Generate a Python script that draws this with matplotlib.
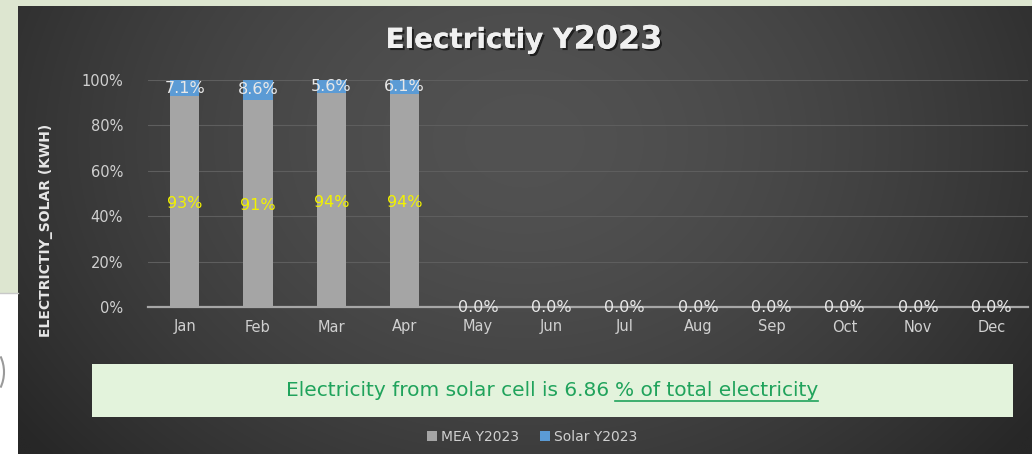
import numpy as np
import matplotlib
matplotlib.use("Agg")
import matplotlib.pyplot as plt
from matplotlib.patches import Rectangle, Arc
from matplotlib.lines import Line2D
import matplotlib.patheffects as pe

# ---- data ----
months = ["Jan", "Feb", "Mar", "Apr", "May", "Jun", "Jul", "Aug", "Sep", "Oct", "Nov", "Dec"]
mea_pct = [92.9, 91.4, 94.4, 93.9, 0, 0, 0, 0, 0, 0, 0, 0]
solar_pct = [7.1, 8.6, 5.6, 6.1, 0, 0, 0, 0, 0, 0, 0, 0]
mea_labels = ["93%", "91%", "94%", "94%"]
solar_share_total = 6.86
yticks = [0, 20, 40, 60, 80, 100]

W, H = 1032, 454
fig = plt.figure(figsize=(W / 100, H / 100), dpi=100)
fig.patch.set_facecolor("#dde6d0")

def fx(px):
    return px / W

def fy(py):
    return 1 - py / H

# white patch bottom-left
fig.add_artist(Rectangle((0, 0), fx(18), fy(293), transform=fig.transFigure,
                         facecolor="white", edgecolor="none", zorder=0))
fig.add_artist(Line2D([0, fx(18)], [fy(293), fy(293)], transform=fig.transFigure,
                      color="#c8c8c8", lw=1, zorder=1))
fig.add_artist(Arc((fx(-20), fy(372)), fx(48), 60 / H, transform=fig.transFigure,
                   theta1=-60, theta2=60, color="#9a9a9a", lw=1.5, zorder=1))

# dark gradient panel
bg = fig.add_axes([fx(18), 0, fx(W - 18), 1 - 6 / H], zorder=0)
nx, ny = 400, 200
xx, yy = np.meshgrid(np.linspace(0, 1, nx), np.linspace(0, 1, ny))
r = np.sqrt(((xx - 0.5) / 0.62) ** 2 + ((yy - 0.3) / 1.1) ** 2)
r = np.clip(r, 0, 1)
v = (0x52 - (0x52 - 0x27) * r ** 1.6) / 255.0
img = np.dstack([v, v, v])
bg.imshow(img, aspect="auto", extent=[0, 1, 1, 0], interpolation="bilinear")
bg.set_xlim(0, 1)
bg.set_ylim(1, 0)
bg.axis("off")

# main chart
ax = fig.add_axes([fx(148), fy(307), fx(1028 - 148), (307 - 80) / H], zorder=2)
ax.patch.set_alpha(0)
x = np.arange(len(months))
bw = 0.4
ax.bar(x, mea_pct, bw, color="#a5a5a5", label="MEA Y2023", zorder=3)
ax.bar(x, solar_pct, bw, bottom=mea_pct, color="#5b9bd5", label="Solar Y2023", zorder=3)

ax.set_xlim(-0.5, len(months) - 0.5)
ax.set_ylim(0, 100)
ax.set_yticks(yticks)
ax.set_yticklabels([f"{t}%" for t in yticks])
ax.set_xticks(x)
ax.set_xticklabels(months)
ax.tick_params(axis="both", length=0, colors="#d0d0d0", labelsize=10.5)
ax.tick_params(axis="y", pad=18)
ax.tick_params(axis="x", pad=9)
for s in ax.spines.values():
    s.set_visible(False)
ax.grid(axis="y", color="#5e5e5e", lw=0.8, zorder=1)
ax.axhline(0, color="#a6a6a6", lw=1.6, zorder=4, clip_on=False)

# data labels
for i in range(len(months)):
    m, s = mea_pct[i], solar_pct[i]
    if m > 0:
        ax.text(x[i], m / 2 - 1, mea_labels[i], ha="center", va="center",
                color="#f2f200", fontsize=11.5, zorder=5)
    ax.text(x[i], m + s / 2, f"{s:.1f}%", ha="center", va="center",
            color="#e8e8e8", fontsize=11.5, zorder=5)

# title
shadow = [pe.withSimplePatchShadow(offset=(1.5, -1.5), shadow_rgbFace="black", alpha=0.6), pe.Normal()]
t1 = fig.text(0.5, fy(40), "Electrictiy Y", ha="right", va="center",
              color="#f0f0f0", fontsize=20, fontweight="semibold", path_effects=shadow)
fig.canvas.draw()
renderer = fig.canvas.get_renderer()
bb1 = t1.get_window_extent(renderer)
t2 = fig.text(0.5, fy(40), "2023", ha="left", va="center",
              color="#f0f0f0", fontsize=23, fontweight="bold", path_effects=shadow)
bb2 = t2.get_window_extent(renderer)
total = bb1.width + bb2.width
cx = 524
left = cx - total / 2
t1.set_position((fx(left + bb1.width), fy(40)))
t2.set_position((fx(left + bb1.width), fy(40)))

# y-axis label
fig.text(fx(46), fy(230), "ELECTRICTIY_SOLAR (KWH)", rotation=90, ha="center", va="center",
         color="#e6e6e6", fontsize=10, fontweight="bold")

# green note box
fig.add_artist(Rectangle((fx(92), fy(417)), fx(1013 - 92), (417 - 364) / H,
                         transform=fig.transFigure, facecolor="#e3f3dc",
                         edgecolor="none", zorder=3))
part1 = f"Electricity from solar cell is {solar_share_total} "
part2 = "% of total electricity"
ty = 391
g1 = fig.text(0, fy(ty), part1, ha="left", va="center", color="#20a35c", fontsize=14.5, zorder=4)
g2 = fig.text(0, fy(ty), part2, ha="left", va="center", color="#20a35c", fontsize=14.5, zorder=4)
fig.canvas.draw()
renderer = fig.canvas.get_renderer()
w1 = g1.get_window_extent(renderer).width
w2 = g2.get_window_extent(renderer).width
start = 552 - (w1 + w2) / 2
g1.set_position((fx(start), fy(ty)))
g2.set_position((fx(start + w1), fy(ty)))
fig.add_artist(Line2D([fx(start + w1), fx(start + w1 + w2)], [fy(401), fy(401)],
                      transform=fig.transFigure, color="#20a35c", lw=1.2, zorder=4))

# legend
handles, labels = ax.get_legend_handles_labels()
leg = fig.legend(handles, labels, loc="center", bbox_to_anchor=(fx(532), fy(437)), ncol=2,
                 frameon=False, fontsize=10, handlelength=0.7, handleheight=0.7,
                 handletextpad=0.3, columnspacing=1.5)
for t in leg.get_texts():
    t.set_color("#d0d0d0")

fig.savefig("out.png", dpi=100, facecolor=fig.get_facecolor())
